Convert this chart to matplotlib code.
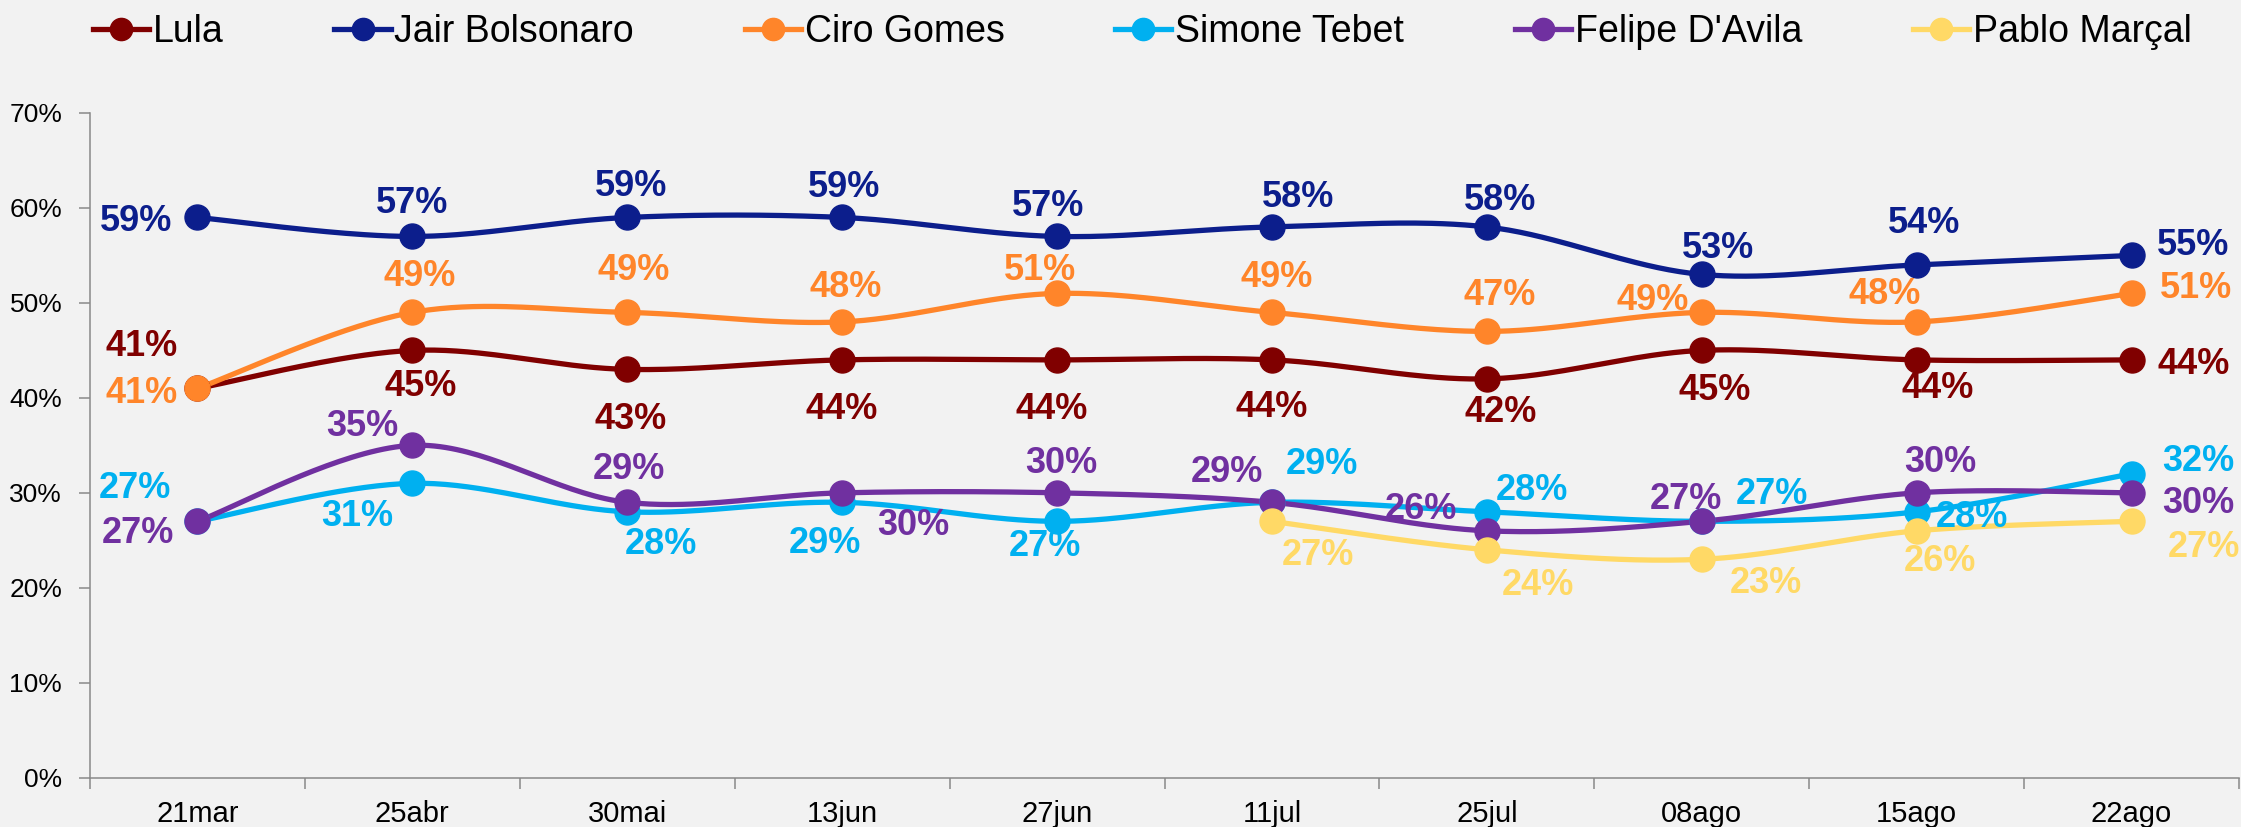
import numpy as np
import matplotlib.pyplot as plt
from matplotlib.lines import Line2D

dates = ["21mar", "25abr", "30mai", "13jun", "27jun", "11jul", "25jul", "08ago", "15ago", "22ago"]
lula = [41, 45, 43, 44, 44, 44, 42, 45, 44, 44]
bolsonaro = [59, 57, 59, 59, 57, 58, 58, 53, 54, 55]
ciro = [41, 49, 49, 48, 51, 49, 47, 49, 48, 51]
simone = [27, 31, 28, 29, 27, 29, 28, 27, 28, 32]
felipe = [27, 35, 29, 30, 30, 29, 26, 27, 30, 30]
pablo = [None, None, None, None, None, 27, 24, 23, 26, 27]

names = ["Lula", "Jair Bolsonaro", "Ciro Gomes", "Simone Tebet", "Felipe D'Avila", "Pablo Marçal"]
colors = ["#800000", "#0C1E8C", "#FF852A", "#00B0F0", "#7030A0", "#FFD966"]

# label offsets in pixels (dx right, dy down) from each marker
offsets = [
    [(-56, -45), (8, 33), (3, 47), (0, 47), (-5, 47), (0, 45), (14, 31), (13, 37), (21, 26), (62, 2)],
    [(-61, 1), (0, -36), (4, -34), (2, -33), (-9, -33), (26, -32), (13, -29), (16, -29), (7, -44), (62, -13)],
    [(-56, 2), (7, -39), (6, -45), (4, -37), (-17, -26), (5, -38), (13, -39), (-49, -15), (-32, -30), (64, -8)],
    [(-63, -36), (-55, 30), (34, 30), (-17, 38), (-12, 22), (50, -41), (45, -24), (70, -30), (55, 3), (67, -15)],
    [(-60, 9), (-50, -22), (2, -36), (71, 30), (4, -32), (-45, -33), (-66, -24), (-16, -25), (24, -33), (67, 8)],
    [None] * 5 + [(46, 31), (51, 33), (64, 21), (23, 28), (72, 23)],
]


def smooth(xs, ys, n=40):
    # Catmull-Rom style bezier, close to Excel's smoothed line
    pts = np.column_stack([xs, ys]).astype(float)
    out = [pts[0]]
    t = np.linspace(0, 1, n)[1:, None]
    for i in range(len(pts) - 1):
        p0 = pts[max(i - 1, 0)]
        p1 = pts[i]
        p2 = pts[i + 1]
        p3 = pts[min(i + 2, len(pts) - 1)]
        c1 = p1 + (p2 - p0) / 6
        c2 = p2 - (p3 - p1) / 6
        seg = (1 - t) ** 3 * p1 + 3 * (1 - t) ** 2 * t * c1 + 3 * (1 - t) * t ** 2 * c2 + t ** 3 * p2
        out.extend(seg)
    return np.array(out)


bg = "#F2F2F2"
fig = plt.figure(figsize=(22.41, 8.27), dpi=100, facecolor=bg)
ax = fig.add_axes([90 / 2241, 1 - 777.7 / 827, 2149 / 2241, 664.7 / 827])
ax.set_facecolor(bg)

series = [lula, bolsonaro, ciro, simone, felipe, pablo]
for vals, col, offs in zip(series, colors, offsets):
    idx = [i for i, v in enumerate(vals) if v is not None]
    ys = [vals[i] / 100 for i in idx]
    curve = smooth(idx, ys)
    ax.plot(curve[:, 0], curve[:, 1], color=col, lw=3.8, solid_capstyle="round", zorder=3)
    ax.plot(idx, ys, "o", color=col, ms=18, zorder=4)
    for i in idx:
        dx, dy = offs[i]
        ax.annotate(f"{vals[i]}%", (i, vals[i] / 100), xytext=(dx, -dy - 3), textcoords="offset pixels",
                    ha="center", va="center", fontsize=26, fontweight="bold", color=col,
                    family="Liberation Sans", zorder=5)

ax.set_xlim(-0.5, len(dates) - 0.5)
ax.set_ylim(0, 0.70)
ax.set_yticks(np.arange(0, 0.71, 0.1))
ax.set_yticklabels([f"{int(round(v * 100))}%" for v in np.arange(0, 0.71, 0.1)],
                   family=["Liberation Sans Narrow", "Liberation Sans"], fontsize=19)
ax.set_xticks(range(len(dates)))
ax.set_xticklabels(dates, family="Liberation Sans", fontsize=21)
ax.set_xticks(np.arange(-0.5, len(dates)), minor=True)
ax.tick_params(axis="x", which="major", length=0, pad=16)
ax.tick_params(axis="x", which="minor", length=8, width=1.1, color="#898989", direction="out")
ax.tick_params(axis="y", length=8, width=1.1, color="#898989", pad=12)
for s in ["top", "right"]:
    ax.spines[s].set_visible(False)
for s in ["left", "bottom"]:
    ax.spines[s].set_color("#898989")
    ax.spines[s].set_linewidth(1.1)

handles = [Line2D([], [], color=c, lw=3.8, marker="o", ms=16) for c in colors]
fig.legend(handles, names, loc="center left", bbox_to_anchor=(93 / 2241, 1 - 32 / 827), ncol=6,
           frameon=False, prop={"family": "Liberation Sans", "size": 27}, handlelength=1.5,
           handletextpad=0.1, columnspacing=2.95, borderpad=0, borderaxespad=0)

fig.savefig("out.png", dpi=100, facecolor=bg)
